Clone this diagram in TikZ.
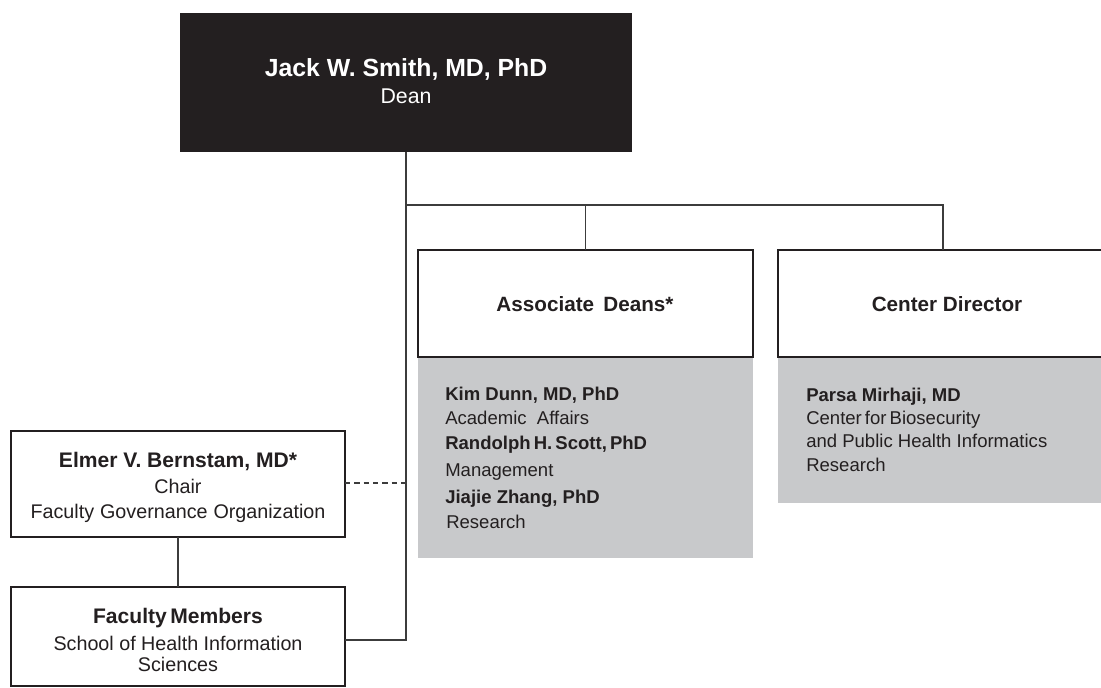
\documentclass[tikz,border=0pt]{standalone}
\usepackage{fontspec}
\setmainfont{Liberation Sans}
\definecolor{ink}{HTML}{231F20}
\definecolor{panel}{HTML}{C8C9CB}
\definecolor{wire}{HTML}{3C3C3C}
\newcommand{\fsz}[1]{\fontsize{#1}{#1}\selectfont}
\begin{document}
\begin{tikzpicture}[x=0.75pt,y=-0.75pt,
  box/.style={draw=ink,line width=0.9pt,fill=white},
  wirestyle/.style={draw=wire,line width=0.9pt},
  txt/.style={anchor=base,inner sep=0pt,text=ink,font=\fsz{13.9}},
  bold/.style={txt,font=\fsz{13.9}\bfseries},
  lefttxt/.style={txt,anchor=base west},
  leftbold/.style={bold,anchor=base west},
  headtxt/.style={txt,font=\fsz{15.5}\bfseries},
  sidetxt/.style={txt,font=\fsz{14.8}},
  sidebold/.style={txt,font=\fsz{15.8}\bfseries}]
\useasboundingbox (0,0) rectangle (1101,688);
\clip (0,0) rectangle (1101,688);
% Dean
\fill[ink] (180,13) rectangle (632,152);
\coordinate (deanb) at (406,152);
\node[txt,text=white,font=\fsz{18.6}\bfseries] (dname) at (406,77) {Jack W.\ Smith, MD, PhD};
\node[txt,text=white,font=\fsz{16}] (dtitle) at (406,104) {Dean};
% gray panels
\fill[panel] (418,357) rectangle (753,558);
\fill[panel] (778,357) rectangle (1110,503);
% white header boxes
\draw[box] (418,250) rectangle (753,357);
\draw[box] (778,250) rectangle (1110,357);
\node[headtxt] (assoc) at (585,312) {Associate\hspace{0.45em}Deans*};
\node[headtxt] (center) at (947,312) {Center Director};
\coordinate (assoctop) at (585.5,250);
\coordinate (centertop) at (943,250);
% assoc list
\node[leftbold] (kim) at (445,401) {Kim Dunn, MD, PhD};
\node[lefttxt] (kimr) at (445,424) {Academic\ \ Affairs};
\node[leftbold] (ran) at (445,450) {Randolph\,H.\,Scott,\,PhD};
\node[lefttxt] (ranr) at (445,476) {Management};
\node[leftbold] (jia) at (445,503) {Jiajie Zhang, PhD};
\node[lefttxt] (jiar) at (446,528) {Research};
% center list
\node[leftbold] (parsa) at (806,402) {Parsa Mirhaji, MD};
\node[lefttxt] (pl1) at (806,425) {Center\,for\,Biosecurity};
\node[lefttxt] (pl2) at (806,447) {and Public Health Informatics};
\node[lefttxt] (pl3) at (806,471) {Research};
% left boxes
\draw[box] (11,431) rectangle (345,537);
\draw[box] (11,587) rectangle (345,686);
\coordinate (elmerR) at (345,483);
\coordinate (elmerB) at (178,537);
\coordinate (facT) at (178,587);
\coordinate (facR) at (345,640);
\node[sidebold] (elmer) at (178,467) {Elmer V.\ Bernstam, MD*};
\node[sidetxt] (chair) at (178,493) {Chair};
\node[sidetxt] (fgo) at (178,518) {Faculty\hspace{0.3em}Governance\hspace{0.3em}Organization};
\node[sidebold] (fac) at (178,623) {Faculty\,Members};
\node[sidetxt] (fac2) at (178,650) {School of Health Information};
\node[sidetxt] (fac3) at (178,671) {Sciences};
% connectors
\coordinate (trunkbar) at (406,205);
\coordinate (trunkmid) at (406,483);
\coordinate (trunkend) at (406,640);
\draw[wirestyle] (deanb) -- (trunkend) -- (facR);
\draw[wirestyle] (trunkbar) -- (943,205) -- (centertop);
\draw[wirestyle] (585.5,205) -- (assoctop);
\draw[wirestyle,dashed,dash pattern=on 4pt off 3pt] (elmerR) -- (trunkmid);
\draw[wirestyle] (elmerB) -- (facT);
\end{tikzpicture}
\end{document}
